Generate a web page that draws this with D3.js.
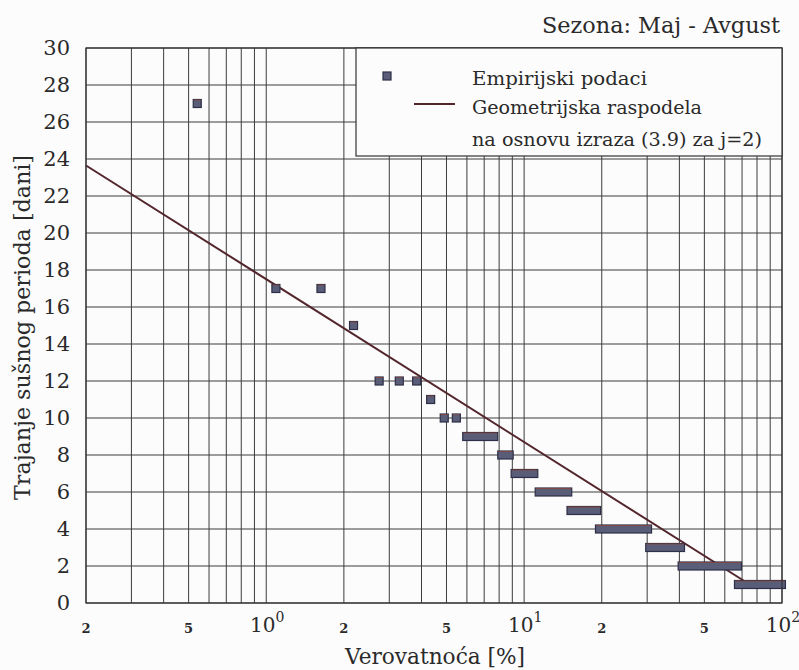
<!DOCTYPE html>
<html>
<head>
<meta charset="utf-8">
<script src="https://cdn.jsdelivr.net/npm/d3@7/dist/d3.min.js"></script>
<style>
  html, body { margin: 0; padding: 0; background: #fcfcfc; }
  svg { display: block; }
</style>
</head>
<body>
<svg id="chart" width="799" height="670"></svg>
<script>
// Empirical dry-spell durations (days) and the exceedance probability (%)
// of the first and last ranked event sharing that duration.
const durations  = [27, 17, 17, 15, 12, 12, 12, 11, 10, 10, 9, 8, 7, 6, 5, 4, 3, 2, 1];
const probFirst  = [0.54, 1.09, 1.63, 2.18, 2.74, 3.28, 3.83, 4.34, 4.9, 5.46, 5.99, 8.19, 9.23, 11.44, 15.2, 19.6, 30.7, 41.0, 67.8];
const probLast   = [0.54, 1.09, 1.63, 2.18, 2.74, 3.28, 3.83, 4.34, 4.9, 5.46, 7.62, 8.75, 10.9, 14.76, 19.1, 30.1, 40.4, 67.2, 99.5];

// Geometric distribution (expression 3.9, j = 2): end points of the fitted line
const geomProb     = [0.2, 75];
const geomDuration = [23.65, 1.0];

// Axis ticks
const yTicks = d3.range(0, 31, 2);
const xGrid = [].concat(
  d3.range(2, 10).map(d => d / 10),
  d3.range(1, 10),
  d3.range(10, 100, 10),
  [100]
);
const xMinorLabels = [0.2, 0.5, 2, 5, 20, 50];
const xMinorText   = ["2", "5", "2", "5", "2", "5"];
const xMajorLabels = [1, 10, 100];
const xMajorExp    = ["0", "1", "2"];

const titleText  = "Sezona: Maj - Avgust";
const xLabelText = "Verovatnoća [%]";
const yLabelText = "Trajanje sušnog perioda [dani]";
const legendEmp  = "Empirijski podaci";
const legendGeom = ["Geometrijska raspodela", "na osnovu izraza (3.9) za j=2)"];

const FONT = "'DejaVu Serif', 'Liberation Serif', serif";
const textColor = "#2a2a2a";

const svg = d3.select("#chart")
  .attr("font-family", FONT)
  .style("font-family", FONT);
const plotL = 86, plotR = 782, plotT = 48, plotB = 603;

const x = d3.scaleLog().domain([0.2, 100]).range([plotL, plotR]);
const y = d3.scaleLinear().domain([0, 30]).range([plotB, plotT]);

const gridColor = "#3c3c3c";

// Grid
const grid = svg.append("g");
grid.selectAll("line.v").data(xGrid).join("line")
  .attr("class", "v")
  .attr("x1", d => x(d)).attr("x2", d => x(d))
  .attr("y1", plotT).attr("y2", plotB)
  .attr("stroke", gridColor).attr("stroke-width", 1);
grid.selectAll("line.h").data(yTicks).join("line")
  .attr("class", "h")
  .attr("x1", plotL).attr("x2", plotR)
  .attr("y1", d => y(d)).attr("y2", d => y(d))
  .attr("stroke", gridColor).attr("stroke-width", 1);

function styled(sel) {
  return sel.attr("font-family", FONT).style("font-family", FONT).attr("fill", textColor);
}

// Y tick labels
styled(svg.append("g").selectAll("text").data(yTicks).join("text"))
  .attr("x", 70).attr("y", d => y(d))
  .attr("text-anchor", "end").attr("dominant-baseline", "central")
  .attr("font-size", 21)
  .text(d => d);

// X tick labels
styled(svg.append("g").selectAll("text").data(xMinorLabels).join("text"))
  .attr("x", d => x(d)).attr("y", 633)
  .attr("text-anchor", "middle")
  .attr("font-size", 13).attr("font-weight", "bold")
  .text((d, i) => xMinorText[i]);

const major = styled(svg.append("g").selectAll("text").data(xMajorLabels).join("text"))
  .attr("x", d => x(d) + 1).attr("y", 632)
  .attr("text-anchor", "middle")
  .attr("font-size", 20);
major.append("tspan").text("10");
major.append("tspan").attr("dy", -10).attr("font-size", 14).text((d, i) => xMajorExp[i]);

// Fitted geometric distribution line
const line = d3.line().x(d => x(d[0])).y(d => y(d[1]));
svg.append("path")
  .datum(geomProb.map((p, i) => [p, geomDuration[i]]))
  .attr("d", line)
  .attr("fill", "none")
  .attr("stroke", "#52262c")
  .attr("stroke-width", 2);

// Empirical points (runs of equal durations merge into bars)
const half = 4;
const emp = svg.append("g");
const runs = durations.map((d, i) => ({ d, p0: probFirst[i], p1: probLast[i] }));
emp.selectAll("rect").data(runs).join("rect")
  .attr("x", r => x(r.p0) - half)
  .attr("y", r => y(r.d) - half)
  .attr("width", r => x(r.p1) - x(r.p0) + 2 * half)
  .attr("height", 2 * half)
  .attr("fill", "#595d78")
  .attr("stroke", "#2c2f46")
  .attr("stroke-width", 1.2);
emp.selectAll("line").data(runs).join("line")
  .attr("x1", r => x(r.p0) - half + 0.5)
  .attr("x2", r => x(r.p1) + half - 0.5)
  .attr("y1", r => y(r.d) - half + 0.5)
  .attr("y2", r => y(r.d) - half + 0.5)
  .attr("stroke", "#9a4a3a").attr("stroke-width", 1).attr("opacity", 0.7);

// Frame
svg.append("rect")
  .attr("x", plotL).attr("y", plotT)
  .attr("width", plotR - plotL).attr("height", plotB - plotT)
  .attr("fill", "none").attr("stroke", "#333").attr("stroke-width", 1.2);

// Legend
const lg = svg.append("g");
lg.append("rect")
  .attr("x", 356).attr("y", plotT)
  .attr("width", plotR - 356).attr("height", 108)
  .attr("fill", "#fcfcfc").attr("stroke", "#333").attr("stroke-width", 1.2);
lg.append("rect")
  .attr("x", 387 - half).attr("y", 76 - half)
  .attr("width", 2 * half).attr("height", 2 * half)
  .attr("fill", "#595d78").attr("stroke", "#2c2f46").attr("stroke-width", 1.2);
lg.append("line")
  .attr("x1", 414).attr("x2", 455).attr("y1", 104).attr("y2", 104)
  .attr("stroke", "#52262c").attr("stroke-width", 2);
styled(lg.append("text")).attr("x", 472).attr("y", 85).attr("font-size", 18)
  .attr("textLength", 175).attr("lengthAdjust", "spacingAndGlyphs")
  .text(legendEmp);
styled(lg.append("text")).attr("x", 472).attr("y", 114).attr("font-size", 18)
  .attr("textLength", 230).attr("lengthAdjust", "spacingAndGlyphs")
  .text(legendGeom[0]);
styled(lg.append("text")).attr("x", 472).attr("y", 146).attr("font-size", 18)
  .attr("textLength", 290).attr("lengthAdjust", "spacingAndGlyphs")
  .text(legendGeom[1]);

// Title
styled(svg.append("text"))
  .attr("x", 542).attr("y", 33).attr("font-size", 22)
  .attr("textLength", 238).attr("lengthAdjust", "spacingAndGlyphs")
  .text(titleText);

// Axis labels
styled(svg.append("text"))
  .attr("x", 345).attr("y", 664).attr("font-size", 23)
  .attr("textLength", 180).attr("lengthAdjust", "spacingAndGlyphs")
  .text(xLabelText);
styled(svg.append("text"))
  .attr("transform", "translate(30,500) rotate(-90)")
  .attr("x", 0).attr("y", 0).attr("font-size", 23)
  .attr("textLength", 345).attr("lengthAdjust", "spacingAndGlyphs")
  .text(yLabelText);
</script>
</body>
</html>
